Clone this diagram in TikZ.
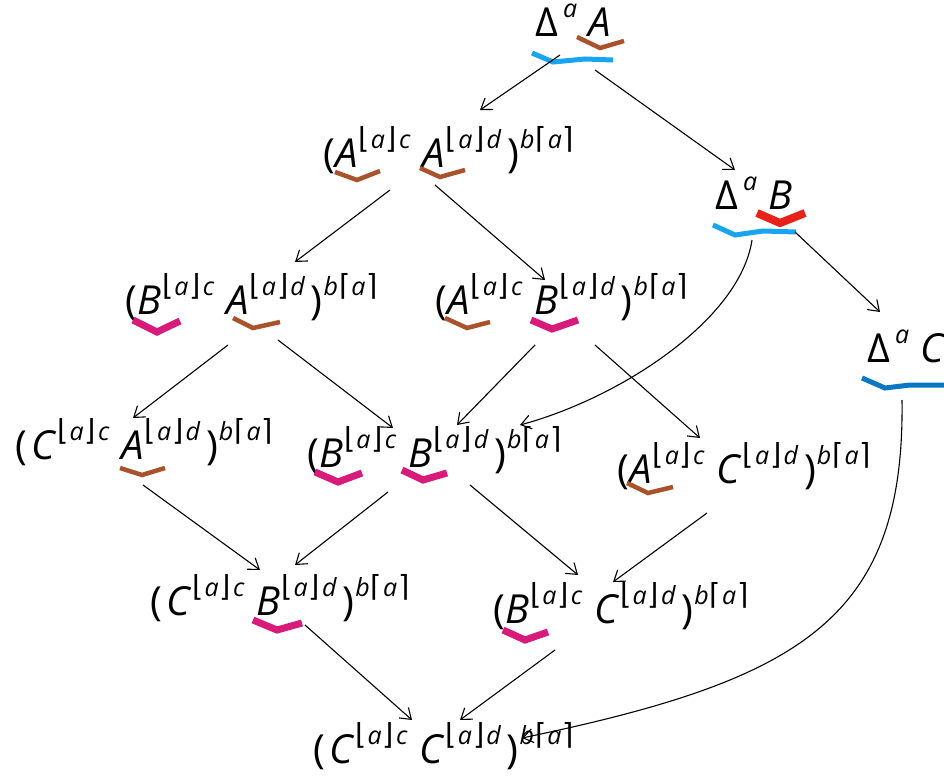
\documentclass[tikz,border=0pt]{standalone}
\usepackage{fontspec}
\setmainfont{Open Sans}
\newfontfamily\djf{DejaVu Sans}
\usetikzlibrary{arrows.meta}
\definecolor{mbrown}{HTML}{A9522B}
\definecolor{mmag}{HTML}{D81B7A}
\definecolor{mblue}{HTML}{18A4F0}
\definecolor{mdblue}{HTML}{0A77C2}
\definecolor{mred}{HTML}{E8211B}
\newcommand\Sp[1]{\raisebox{19pt}{\fontsize{25}{25}\selectfont\itshape #1}}
\newcommand\brk[1]{{\upshape\djf\fontsize{29}{29}\selectfont #1}}
\newcommand\myLf{\brk{⌊}}
\newcommand\myRf{\brk{⌋}}
\newcommand\myLc{\brk{⌈}}
\newcommand\myRc{\brk{⌉}}
\newcommand\Tm[2]{\textit{#1}\Sp{\hspace{1pt}\myLf\hspace{1pt}a\hspace{1pt}\myRf\hspace{2pt}#2}}
\newcommand\Pair[2]{(#1\hspace{12pt}#2\hspace{6pt})\Sp{\hspace{1pt}b\hspace{1pt}\myLc\hspace{1pt}a\hspace{1pt}\myRc}}
\newcommand\Del[1]{Δ\hspace{5pt}\Sp{a}\hspace{11pt}\textit{#1}}
\begin{document}
\begin{tikzpicture}[x=1pt,y=-1pt,
  lab/.style={anchor=base west, inner sep=0pt, font=\fontsize{40}{46}\selectfont},
  arr/.style={-{Straight Barb[length=10pt,width=14pt]}, line width=1.1pt},
  mkbr/.style={draw=mbrown, line width=4.5pt, line join=miter},
  mkmg/.style={draw=mmag, line width=7pt, line join=miter},
  mkbl/.style={draw=mblue, line width=5pt, line join=miter},
  mkdb/.style={draw=mdblue, line width=5pt, line join=miter},
  mkrd/.style={draw=mred, line width=8pt, line join=miter}]
\useasboundingbox (0,0) rectangle (944,783);
% nodes
\node[lab] (dA) at (535,37) {\Del{A}};
\node[lab] (AA) at (323,168) {\Pair{\Tm{A}{c}}{\Tm{A}{d}}};
\node[lab] (dB) at (715,210) {\Del{B}};
\node[lab] (BA) at (125,314) {\Pair{\Tm{B}{c}}{\Tm{A}{d}}};
\node[lab] (AB) at (435,315) {\Pair{\Tm{A}{c}}{\Tm{B}{d}}};
\node[lab] (dC) at (867,362) {\Del{C}};
\node[lab] (CA) at (15,459) {\Pair{\hspace{4pt}\Tm{C}{c}}{\Tm{A}{d}}};
\node[lab] (BB) at (307,467) {\Pair{\Tm{B}{c}}{\Tm{B}{d}}};
\node[lab] (AC) at (617,483) {\Pair{\Tm{A}{c}}{\Tm{C}{d}}};
\node[lab] (CB) at (150,615) {\Pair{\hspace{4pt}\Tm{C}{c}}{\Tm{B}{d}}};
\node[lab] (BC) at (493,623) {\Pair{\Tm{B}{c}}{\Tm{C}{d}}};
\node[lab] (CC) at (313,763) {\Pair{\hspace{4pt}\Tm{C}{c}}{\Tm{C}{d}}};
% marks
\draw[mkbl] (532,53) -- (553,62) -- (585,59) -- (613,60);
\draw[mkbr] (577,37) -- (600,48) -- (624,41);
\draw[mkbr] (335,172) -- (357,180) -- (380,171);
\draw[mkbr] (420,168) -- (440,177) -- (465,170);
\draw[mkbl] (713,225) -- (735,235) -- (763,231) -- (796,232);
\draw[mkrd] (757,213) -- (780,223) -- (805,213);
\draw[mkmg] (133,320) -- (157,332) -- (180,321);
\draw[mkbr] (233,318) -- (253,328) -- (280,322);
\draw[mkbr] (445,318) -- (467,328) -- (490,322);
\draw[mkmg] (531,320) -- (552,329) -- (578,320);
\draw[mkdb] (862,378) -- (885,388) -- (910,385) -- (950,385);
\draw[mkbr] (120,468) -- (142,475) -- (165,468);
\draw[mkmg] (315,472) -- (338,482) -- (362,473);
\draw[mkmg] (402,470) -- (423,480) -- (447,473);
\draw[mkbr] (627,483) -- (648,493) -- (673,487);
\draw[mkmg] (253,620) -- (277,630) -- (302,623);
\draw[mkmg] (503,630) -- (525,640) -- (548,632);
% arrows
\draw[arr] ([shift={(25,18)}]dA.base west) -- ([shift={(157,-58)}]AA.base west);
\draw[arr] ([shift={(60,33)}]dA.base west) -- ([shift={(20,-40)}]dB.base west);
\draw[arr] ([shift={(67,22)}]AA.base west) -- ([shift={(170,-52)}]BA.base west);
\draw[arr] ([shift={(112,17)}]AA.base west) -- ([shift={(110,-35)}]AB.base west);
\draw[arr] ([shift={(37,30)}]dB.base west) .. controls (740,320) and (620,398) .. ([shift={(213,-42)}]BB.base west);
\draw[arr] ([shift={(80,22)}]dB.base west) -- ([shift={(13,-50)}]dC.base west);
\draw[arr] ([shift={(103,31)}]BA.base west) -- ([shift={(118,-41)}]CA.base west);
\draw[arr] ([shift={(153,26)}]BA.base west) -- ([shift={(86,-39)}]BB.base west);
\draw[arr] ([shift={(100,30)}]AB.base west) -- ([shift={(150,-42)}]BB.base west);
\draw[arr] ([shift={(160,30)}]AB.base west) -- ([shift={(83,-45)}]AC.base west);
\draw[arr] ([shift={(35,38)}]dC.base west) .. controls (905,620) and (800,680) .. ([shift={(209,-25)}]CC.base west);
\draw[arr] ([shift={(128,26)}]CA.base west) -- ([shift={(110,-45)}]CB.base west);
\draw[arr] ([shift={(81,25)}]BB.base west) -- ([shift={(145,-50)}]CB.base west);
\draw[arr] ([shift={(163,18)}]BB.base west) -- ([shift={(85,-48)}]BC.base west);
\draw[arr] ([shift={(90,30)}]AC.base west) -- ([shift={(120,-41)}]BC.base west);
\draw[arr] ([shift={(155,10)}]CB.base west) -- ([shift={(99,-43)}]CC.base west);
\draw[arr] ([shift={(62,27)}]BC.base west) -- ([shift={(147,-43)}]CC.base west);
\end{tikzpicture}
\end{document}
